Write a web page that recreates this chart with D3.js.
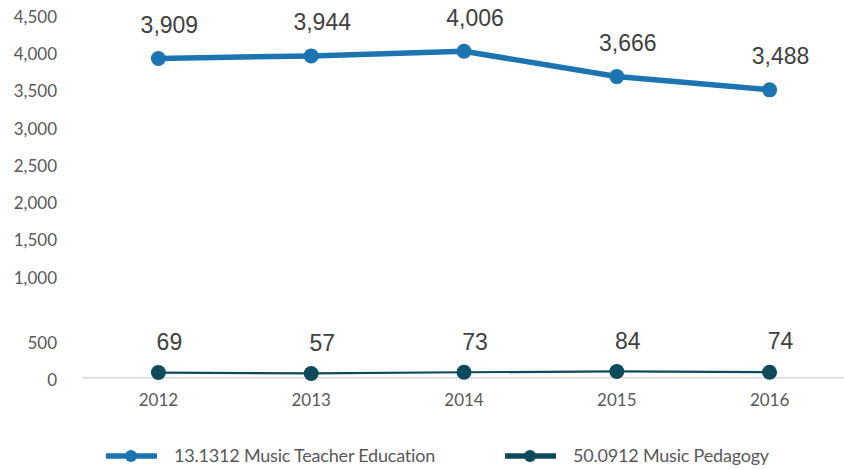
<!DOCTYPE html>
<html>
<head>
<meta charset="utf-8">
<script src="https://cdn.jsdelivr.net/npm/d3@7"></script>
<style>
  html, body { margin: 0; padding: 0; background: #ffffff; }
  svg { display: block; }
</style>
</head>
<body>
<svg id="chart" width="844" height="469"></svg>
<script>
// Enrollment by program, 2012–2016
const years = ["2012", "2013", "2014", "2015", "2016"];
const teacherEd = [3909, 3944, 4006, 3666, 3488];
const pedagogy = [69, 57, 73, 84, 74];
const yTicks = [0, 500, 1000, 1500, 2000, 2500, 3000, 3500, 4000, 4500];
const seriesNames = ["13.1312 Music Teacher Education", "50.0912 Music Pedagogy"];

const svg = d3.select("#chart");

const blue = "#1c74b0";
const teal = "#0d4a5c";
const fmt = d3.format(",");

// Category axis: one band per year, points at band centres
const x = d3.scaleBand().domain(years).range([82, 846]);
const cx = d => x(d) + x.bandwidth() / 2;

// Broken value axis: the 500–1000 stretch is widened to separate the two series
const y = d3.scaleLinear()
  .domain([0, 500, 1000, 4500])
  .range([377.7, 340.5, 275, 14.5]);

// Baseline
svg.append("line")
  .attr("x1", x.range()[0]).attr("x2", x.range()[1])
  .attr("y1", y(0)).attr("y2", y(0))
  .attr("stroke", "#d9d9d9").attr("stroke-width", 1.5);

// Y axis labels
const yAxis = d3.axisLeft(y).tickValues(yTicks).tickSize(0).tickFormat(fmt);
const gy = svg.append("g").attr("transform", "translate(57,0)").call(yAxis);
gy.select(".domain").remove();
gy.selectAll("text")
  .attr("x", 0).attr("dy", "0.47em")
  .attr("fill", "#595959")
  .style("font-family", "Lato, 'Open Sans', sans-serif")
  .style("font-size", "17px");

// X axis labels
const xAxis = d3.axisBottom(x).tickSize(0);
const gx = svg.append("g").attr("transform", "translate(0,394)").call(xAxis);
gx.select(".domain").remove();
gx.selectAll("text")
  .attr("y", 0).attr("dy", "0.71em")
  .attr("fill", "#595959")
  .style("font-family", "Lato, 'Open Sans', sans-serif")
  .style("font-size", "17px");

const line = d3.line().x((d, i) => cx(years[i])).y(d => y(d));

function drawSeries(values, color, width, labelLift) {
  const g = svg.append("g");
  g.append("path")
    .datum(values)
    .attr("d", line)
    .attr("fill", "none")
    .attr("stroke", color)
    .attr("stroke-width", width)
    .attr("stroke-linejoin", "round");
  g.selectAll("circle")
    .data(values)
    .join("circle")
    .attr("cx", (d, i) => cx(years[i]))
    .attr("cy", d => y(d))
    .attr("r", 7.5)
    .attr("fill", color);
  g.selectAll("text")
    .data(values)
    .join("text")
    .attr("x", (d, i) => cx(years[i]) + 11)
    .attr("y", d => y(d) - labelLift)
    .attr("dy", "0.36em")
    .attr("text-anchor", "middle")
    .attr("fill", "#404040")
    .style("font-family", "'Liberation Sans', Arial, sans-serif")
    .style("font-size", "23px")
    .text(d => fmt(d));
}

drawSeries(teacherEd, blue, 5.5, 34);
drawSeries(pedagogy, teal, 2.2, 31);

// Legend
const legendItems = [
  { name: seriesNames[0], color: blue, x0: 106 },
  { name: seriesNames[1], color: teal, x0: 505 }
];
const lg = svg.append("g");
legendItems.forEach(it => {
  const ly = 456;
  lg.append("line")
    .attr("x1", it.x0).attr("x2", it.x0 + 51)
    .attr("y1", ly).attr("y2", ly)
    .attr("stroke", it.color).attr("stroke-width", 5.5);
  lg.append("circle")
    .attr("cx", it.x0 + 25).attr("cy", ly).attr("r", 6)
    .attr("fill", it.color);
  lg.append("text")
    .attr("x", it.x0 + 68).attr("y", ly)
    .attr("dy", "0.36em")
    .attr("fill", "#595959")
    .style("font-family", "Lato, 'Open Sans', sans-serif")
    .style("font-size", "18px")
    .style("letter-spacing", "-0.2px")
    .text(it.name);
});
</script>
</body>
</html>
